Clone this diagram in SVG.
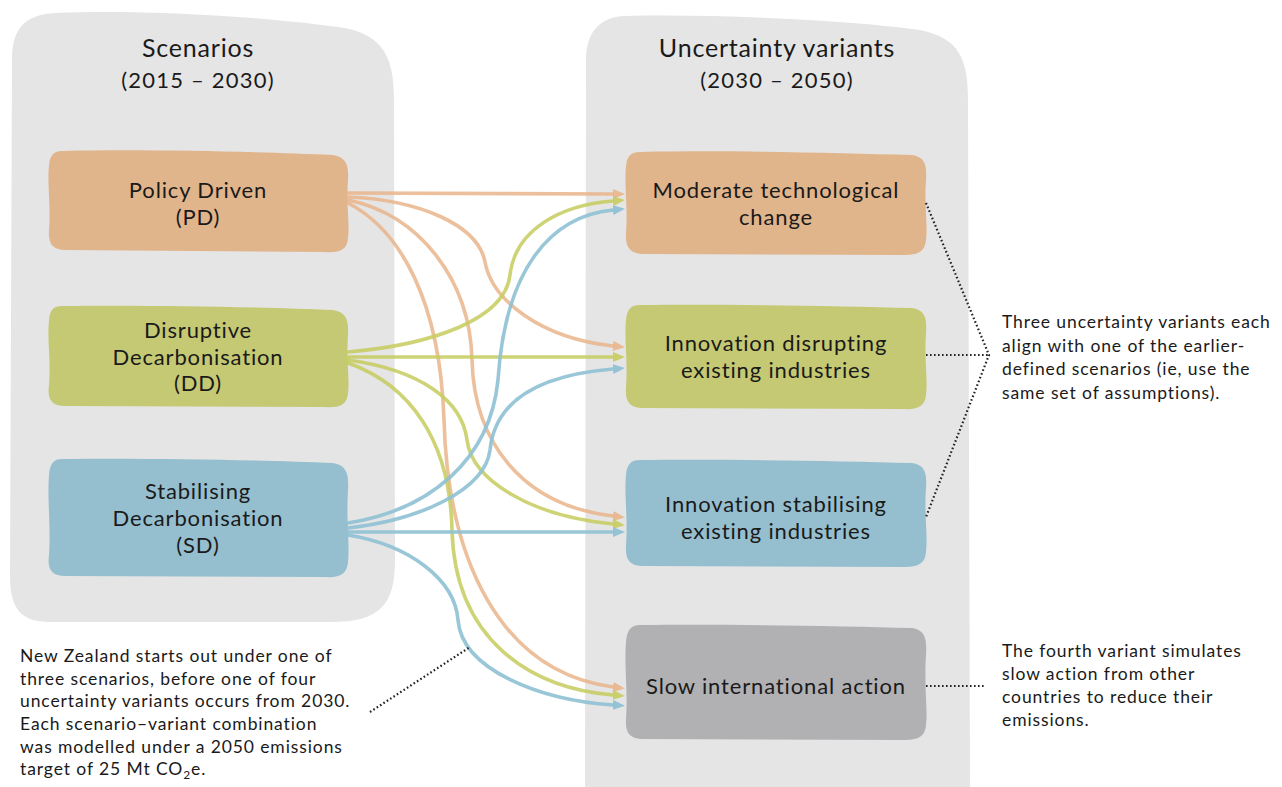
<svg xmlns="http://www.w3.org/2000/svg" width="1282" height="787" viewBox="0 0 1282 787">
<style>
text{font-family:Lato,"Noto Sans","DejaVu Sans",sans-serif;fill:#1a1a1a}
.title{font-size:25px;letter-spacing:0.8px}
.sub{font-size:22px;letter-spacing:1.2px}
.node{font-size:22px;letter-spacing:0.85px;text-anchor:middle}
.note{font-size:17.5px;letter-spacing:0.9px}
.arr{fill:none;stroke-width:3.6;stroke-linecap:round}
.o{stroke:#e9b58b;stroke-opacity:.85}
.g{stroke:#c6cc5e;stroke-opacity:.85}
.b{stroke:#8ec1d4;stroke-opacity:.9}
.dot{fill:none;stroke:#222;stroke-width:2.2;stroke-dasharray:1.6 2.4}
.cont{fill:#e5e5e5}
</style>
<defs>
<marker id="mo" viewBox="0 0 12 10" refX="0" refY="5" markerWidth="12" markerHeight="10" markerUnits="userSpaceOnUse" orient="auto"><path d="M0,0 L12,5 L0,10 Z" fill="#e9b58b" fill-opacity=".9"/></marker>
<marker id="mg" viewBox="0 0 12 10" refX="0" refY="5" markerWidth="12" markerHeight="10" markerUnits="userSpaceOnUse" orient="auto"><path d="M0,0 L12,5 L0,10 Z" fill="#c6cc5e" fill-opacity=".9"/></marker>
<marker id="mb" viewBox="0 0 12 10" refX="0" refY="5" markerWidth="12" markerHeight="10" markerUnits="userSpaceOnUse" orient="auto"><path d="M0,0 L12,5 L0,10 Z" fill="#8ec1d4" fill-opacity=".95"/></marker>
</defs>

<g id="container-scenarios">
<path class="cont" d="M55,13 C150,9 280,18 345,28 C385,36 394,60 394,100 L395,560 C395,605 380,622 330,622 L50,622 C20,622 10,608 10,575 L12,60 C12,28 25,15 55,13 Z"/>
<text class="title" x="198" y="57" text-anchor="middle">Scenarios</text>
<text class="sub" x="198" y="88" text-anchor="middle">(2015 – 2030)</text>
</g>

<g id="container-variants">
<path class="cont" d="M625,16 C720,14 850,20 920,30 C960,38 968,60 968,100 L970,787 L585,787 L586,60 C586,32 600,17 625,16 Z"/>
<text class="title" x="777" y="57" text-anchor="middle">Uncertainty variants</text>
<text class="sub" x="777" y="88" text-anchor="middle">(2030 – 2050)</text>
</g>

<g id="node-pd">
<path fill="#e1b58c" d="M62,151 C150,149 260,152 333,155 C346,157 349,165 348,180 C346,205 350,225 348,238 C347,250 340,253 325,252 L65,250 C52,250 48,243 49,230 C51,205 47,185 49,165 C50,155 54,151 62,151 Z"/>
<text class="node" x="198" y="198">Policy Driven</text>
<text class="node" x="198" y="225">(PD)</text>
</g>

<g id="node-dd">
<path fill="#c5c973" d="M62,306 C150,305 260,307 333,310 C346,312 349,320 348,335 C346,360 350,380 348,393 C347,405 340,408 325,407 L65,406 C52,406 47,400 49,385 C51,360 47,340 49,320 C50,309 54,306 62,306 Z"/>
<text class="node" x="198" y="338">Disruptive</text>
<text class="node" x="198" y="365">Decarbonisation</text>
<text class="node" x="198" y="391">(DD)</text>
</g>

<g id="node-sd">
<path fill="#95bfcf" d="M62,459 C150,458 260,460 333,463 C346,465 349,473 348,490 C346,520 350,545 348,562 C347,574 340,578 325,577 L65,576 C52,576 47,570 49,555 C51,525 47,500 49,475 C50,463 54,459 62,459 Z"/>
<text class="node" x="198" y="499">Stabilising</text>
<text class="node" x="198" y="526">Decarbonisation</text>
<text class="node" x="198" y="553">(SD)</text>
</g>

<g id="node-moderate">
<path fill="#e1b58c" d="M640,152 C730,150 840,153 912,155 C925,157 927,165 926,180 C924,205 928,225 926,240 C925,252 918,255 903,255 L643,254 C630,254 625,247 626,233 C628,205 624,185 626,166 C627,156 631,152 640,152 Z"/>
<text class="node" x="776" y="198">Moderate technological</text>
<text class="node" x="776" y="225">change</text>
</g>

<g id="node-disrupt">
<path fill="#c5c973" d="M640,305 C730,304 840,306 912,308 C925,310 927,318 926,333 C924,358 928,378 926,395 C925,406 918,410 903,409 L643,408 C630,408 625,402 626,388 C628,360 624,340 626,320 C627,309 631,305 640,305 Z"/>
<text class="node" x="776" y="351">Innovation disrupting</text>
<text class="node" x="776" y="378">existing industries</text>
</g>

<g id="node-stabilise">
<path fill="#95bfcf" d="M640,460 C730,459 840,461 912,463 C925,465 927,473 926,488 C924,515 928,535 926,552 C925,564 918,567 903,567 L643,566 C630,566 625,560 626,546 C628,515 624,495 626,475 C627,464 631,460 640,460 Z"/>
<text class="node" x="776" y="512">Innovation stabilising</text>
<text class="node" x="776" y="539">existing industries</text>
</g>

<g id="node-slow">
<path fill="#b1b1b3" d="M640,625 C730,624 840,626 912,628 C925,630 927,638 926,655 C924,690 928,710 926,725 C925,737 918,740 903,740 L643,739 C630,739 625,733 626,719 C628,690 624,665 626,642 C627,630 631,625 640,625 Z"/>
<text class="node" x="776" y="694">Slow international action</text>
</g>

<g id="connectors">
<path class="arr o" marker-end="url(#mo)" d="M348,193 C450,194 550,194 613,194"/>
<path class="arr o" marker-end="url(#mo)" d="M348,197 C420,200 478,225 485,262 C492,300 540,338 613,346"/>
<path class="arr o" marker-end="url(#mo)" d="M348,200 C420,215 470,280 472,360 C474,440 520,505 613,516"/>
<path class="arr o" marker-end="url(#mo)" d="M348,203 C400,230 440,300 444,420 C448,560 500,672 613,687"/>

<path class="arr g" marker-end="url(#mg)" d="M348,352 C430,345 505,320 510,275 C515,230 560,205 613,201"/>
<path class="arr g" marker-end="url(#mg)" d="M348,357 C450,357 550,357 613,357"/>
<path class="arr g" marker-end="url(#mg)" d="M348,360 C420,370 462,400 467,440 C472,480 530,516 613,524"/>
<path class="arr g" marker-end="url(#mg)" d="M348,363 C410,385 450,440 452,530 C455,640 530,688 613,695"/>

<path class="arr b" marker-end="url(#mb)" d="M348,523 C430,510 490,460 498,380 C505,270 550,216 613,210"/>
<path class="arr b" marker-end="url(#mb)" d="M348,528 C420,520 485,490 490,450 C495,400 540,375 613,369"/>
<path class="arr b" marker-end="url(#mb)" d="M348,532 C450,532 550,532 613,532"/>
<path class="arr b" marker-end="url(#mb)" d="M348,535 C410,545 455,580 458,620 C462,670 540,700 613,705"/>

<path class="dot" d="M370,712 L470,647"/>
<path class="dot" d="M926,203 L989,355 L926,517 M926,355 L989,355"/>
<path class="dot" d="M926,686 L986,686"/>
</g>

<g id="note-left">
<text class="note" x="20" y="662">New Zealand starts out under one of</text>
<text class="note" x="20" y="685">three scenarios, before one of four</text>
<text class="note" x="20" y="707">uncertainty variants occurs from 2030.</text>
<text class="note" x="20" y="730">Each scenario–variant combination</text>
<text class="note" x="20" y="753">was modelled under a 2050 emissions</text>
<text class="note" x="20" y="775">target of 25 Mt CO<tspan font-size="12" dy="4">2</tspan><tspan dy="-4">e.</tspan></text>
</g>

<g id="note-right">
<text class="note" x="1002" y="328">Three uncertainty variants each</text>
<text class="note" x="1002" y="352">align with one of the earlier-</text>
<text class="note" x="1002" y="375">defined scenarios (ie, use the</text>
<text class="note" x="1002" y="399">same set of assumptions).</text>
</g>

<g id="note-slow">
<text class="note" x="1002" y="657">The fourth variant simulates</text>
<text class="note" x="1002" y="680">slow action from other</text>
<text class="note" x="1002" y="703">countries to reduce their</text>
<text class="note" x="1002" y="726">emissions.</text>
</g>
</svg>
